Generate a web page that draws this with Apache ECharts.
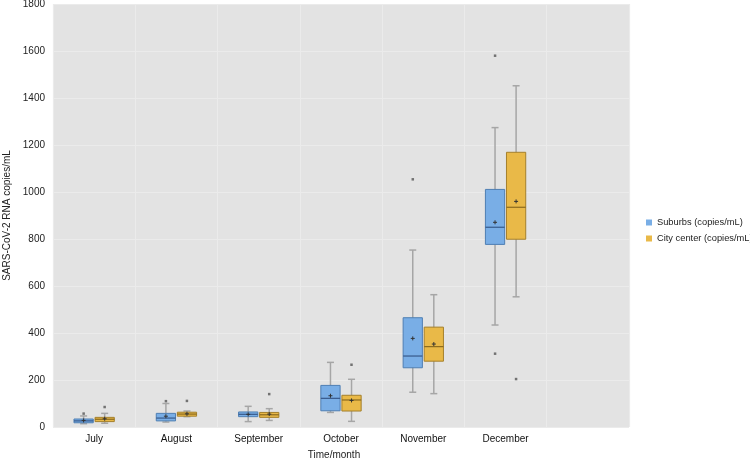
<!DOCTYPE html>
<html>
<head>
<meta charset="utf-8">
<script src="https://cdn.jsdelivr.net/npm/echarts@6/dist/echarts.min.js"></script>
<style>
  html, body { margin: 0; padding: 0; background: #fff; }
  #main { width: 750px; height: 462px; }
</style>
</head>
<body>
<div id="main"></div>
<script>
// months on the x axis (last slot is left empty, like the original)
var months = ['July', 'August', 'September', 'October', 'November', 'December', ''];

// [low whisker, Q1, median, Q3, high whisker]
var suburbsBox = [
    [14, 18, 26, 34, 47],
    [21, 26, 38, 58, 100],
    [23, 44, 54, 64, 88],
    [62, 69, 122, 177, 275],
    [148, 252, 302, 465, 753],
    [434, 777, 850, 1011, 1274]
];
var suburbsMean = [28, 46, 54, 133, 377, 871];
// [month index, value]
var suburbsOutliers = [[0, 57], [1, 110], [4, 1054], [5, 1580], [5, 312]];

var cityBox = [
    [16, 23, 33, 41, 58],
    [44, 46, 55, 63, 68],
    [28, 41, 52, 62, 78],
    [24, 68, 115, 135, 203],
    [142, 280, 342, 425, 563],
    [554, 799, 935, 1169, 1452]
];
var cityMean = [35, 56, 55, 113, 353, 960];
var cityOutliers = [[0, 85], [1, 111], [2, 140], [3, 265], [5, 204]];

var fontFamily = '"Liberation Sans", Arial, sans-serif';

function boxData(box, mean) {
    return box.map(function (b, i) {
        return [i].concat(b).concat([mean[i]]);
    });
}

// draws one box + whiskers + median + mean cross, shifted inside the band
function boxRenderer(shift, fill, border, medianColor) {
    return function (params, api) {
        var idx = api.value(0);
        var band = api.size([1, 0])[0];
        var cx = api.coord([idx, 0])[0] + band * shift;
        var half = band * 0.117;
        var cap = 3.5;
        var yLow = api.coord([idx, api.value(1)])[1];
        var yQ1 = api.coord([idx, api.value(2)])[1];
        var yMed = api.coord([idx, api.value(3)])[1];
        var yQ3 = api.coord([idx, api.value(4)])[1];
        var yHigh = api.coord([idx, api.value(5)])[1];
        var yMean = api.coord([idx, api.value(6)])[1];
        var whisker = { stroke: '#a6a6a6', lineWidth: 1.5 };
        return {
            type: 'group',
            children: [
                { type: 'line', shape: { x1: cx, y1: yHigh, x2: cx, y2: yLow }, style: whisker },
                { type: 'line', shape: { x1: cx - cap, y1: yHigh, x2: cx + cap, y2: yHigh }, style: whisker },
                { type: 'line', shape: { x1: cx - cap, y1: yLow, x2: cx + cap, y2: yLow }, style: whisker },
                { type: 'rect', shape: { x: cx - half, y: yQ3, width: half * 2, height: yQ1 - yQ3 },
                  style: { fill: fill, stroke: border, lineWidth: 1 } },
                { type: 'line', shape: { x1: cx - half, y1: yMed, x2: cx + half, y2: yMed },
                  style: { stroke: medianColor, lineWidth: 1.2 } },
                { type: 'line', shape: { x1: cx - 2, y1: yMean, x2: cx + 2, y2: yMean },
                  style: { stroke: '#333', lineWidth: 1 } },
                { type: 'line', shape: { x1: cx, y1: yMean - 2, x2: cx, y2: yMean + 2 },
                  style: { stroke: '#333', lineWidth: 1 } }
            ]
        };
    };
}

var myChart = echarts.init(document.getElementById('main'));

var option = {
    animation: false,
    textStyle: { fontFamily: fontFamily },
    grid: {
        left: 53, right: 121, top: 4, bottom: 35,
        outerBoundsMode: 'none',
        containLabel: false,
        show: true, backgroundColor: '#e3e3e3', borderWidth: 0
    },
    legend: {
        data: ['Suburbs (copies/mL)', 'City center (copies/mL)'],
        orient: 'vertical',
        left: 641, top: 213,
        icon: 'rect',
        itemWidth: 6, itemHeight: 6, itemGap: 7,
        textStyle: { fontSize: 9.3, color: '#222', fontFamily: fontFamily }
    },
    xAxis: {
        type: 'category',
        data: months,
        name: 'Time/month',
        nameLocation: 'middle',
        nameGap: 23,
        nameTextStyle: { fontSize: 10, color: '#222', padding: [0, 14, 0, 0] },
        axisLine: { show: false },
        axisTick: { show: false },
        axisLabel: { fontSize: 10, color: '#111', margin: 7 },
        splitLine: { show: true, lineStyle: { color: '#ebebeb', width: 1.2 } }
    },
    yAxis: {
        type: 'value',
        min: 0, max: 1800, interval: 200,
        name: 'SARS-CoV-2 RNA copies/mL',
        nameLocation: 'middle',
        nameGap: 38,
        nameTextStyle: { fontSize: 10, color: '#222' },
        axisLine: { show: false },
        axisTick: { show: false },
        axisLabel: {
            fontSize: 10, color: '#222', margin: 8,
            formatter: function (v) { return String(v); }
        },
        splitLine: { lineStyle: { color: '#ebebeb', width: 1.2 } }
    },
    series: [
        {
            name: 'Suburbs (copies/mL)',
            type: 'custom',
            itemStyle: { color: '#79aee6' },
            encode: { x: 0, y: [1, 2, 3, 4, 5, 6] },
            renderItem: boxRenderer(-0.128, '#79aee6', '#4f7fb3', '#37598a'),
            data: boxData(suburbsBox, suburbsMean)
        },
        {
            name: 'City center (copies/mL)',
            type: 'custom',
            itemStyle: { color: '#e9b948' },
            encode: { x: 0, y: [1, 2, 3, 4, 5, 6] },
            renderItem: boxRenderer(0.128, '#e9b948', '#a5802c', '#8a6a1e'),
            data: boxData(cityBox, cityMean)
        },
        {
            name: 'Suburbs outliers',
            type: 'scatter',
            symbol: 'rect',
            symbolSize: 2.5,
            symbolOffset: [-10.5, 0],
            itemStyle: { color: '#555' },
            data: suburbsOutliers
        },
        {
            name: 'City outliers',
            type: 'scatter',
            symbol: 'rect',
            symbolSize: 2.5,
            symbolOffset: [10.5, 0],
            itemStyle: { color: '#555' },
            data: cityOutliers
        }
    ]
};

myChart.setOption(option);
</script>
</body>
</html>
